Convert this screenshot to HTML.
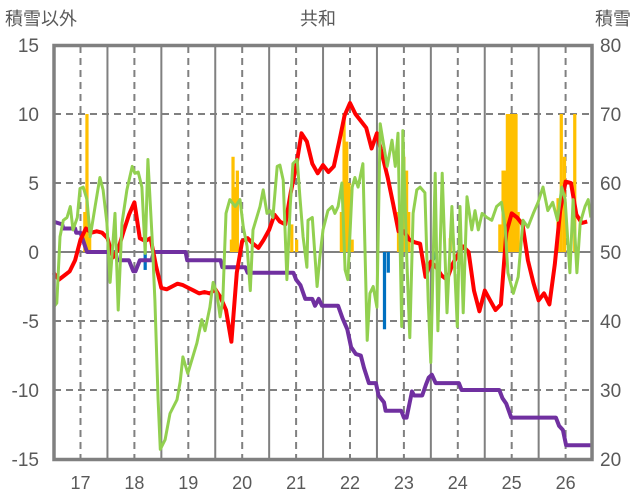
<!DOCTYPE html>
<html><head><meta charset="utf-8">
<style>
html,body{margin:0;padding:0;background:#fff;}
svg{display:block;font-family:"Liberation Sans","Noto Sans CJK JP",sans-serif;}
</style></head>
<body>
<svg id="chart" width="636" height="501" viewBox="0 0 636 501" xmlns="http://www.w3.org/2000/svg">
  <text x="5" y="25" font-size="18" fill="#595959">積雪以外</text>
  <text x="318" y="25" font-size="18" fill="#595959" text-anchor="middle">共和</text>
  <text x="631" y="25" font-size="18" fill="#595959" text-anchor="end">積雪</text>
  <g id="grid"></g>
  <g id="bars"></g>
  <g id="lines"></g>
  <rect x="54" y="45.5" width="538" height="414" fill="none" stroke="#808080" stroke-width="3.5"/>
  <g id="ticks"></g>
</svg>
<script>
const leftTicks = [15, 10, 5, 0, -5, -10, -15];
const rightTicks = [80, 70, 60, 50, 40, 30, 20];
const xTicks = [17, 18, 19, 20, 21, 22, 23, 24, 25, 26];

const redStart = 16.5;
const redStep = 0.1;
const redValues = [-1.5,-2.0,-1.7,-1.4,-0.6,0.9,1.7,1.4,1.5,1.4,1.0,-0.4,0.2,1.5,2.7,3.6,1.0,0.8,1.0,-1.0,-2.6,-2.7,-2.5,-2.3,-2.4,-2.6,-2.8,-3.0,-2.9,-3.0,-2.7,-3.3,-4.2,-6.5,-1.5,0.8,1.0,0.6,0.3,0.9,1.6,2.7,2.2,2.0,4.3,6.2,8.6,8.0,6.4,5.7,6.3,5.8,6.2,8.0,9.9,10.8,10.0,9.5,9.0,7.5,8.6,7.0,5.4,3.5,1.5,1.5,0.9,0.7,0.6,-1.8,-0.7,-1.1,-1.7,-2.0,-0.9,-0.2,0.4,0.0,-2.8,-4.3,-2.8,-3.5,-4.2,-3.8,1.4,2.8,2.5,2.0,-0.6,-2.2,-3.5,-3.0,-3.8,-0.9,3.0,5.1,5.0,2.7,2.1,2.2];

const greenT = [16.5,16.56,16.62,16.68,16.75,16.81,16.86,16.94,16.99,17.05,17.12,17.18,17.27,17.36,17.42,17.49,17.55,17.64,17.70,17.77,17.86,17.96,18.01,18.07,18.14,18.20,18.25,18.33,18.38,18.44,18.48,18.57,18.66,18.79,18.85,18.90,18.99,19.16,19.25,19.31,19.40,19.46,19.53,19.59,19.64,19.70,19.77,19.87,19.96,20.02,20.09,20.15,20.20,20.33,20.39,20.46,20.52,20.57,20.65,20.70,20.76,20.83,20.89,20.94,21.02,21.07,21.13,21.20,21.22,21.30,21.39,21.44,21.50,21.59,21.67,21.72,21.78,21.85,21.91,21.96,22.04,22.09,22.15,22.24,22.32,22.37,22.43,22.50,22.56,22.61,22.69,22.78,22.84,22.89,22.96,22.98,23.06,23.11,23.17,23.24,23.30,23.39,23.45,23.50,23.58,23.63,23.71,23.80,23.89,23.99,24.04,24.10,24.17,24.26,24.32,24.38,24.45,24.54,24.63,24.72,24.81,24.88,24.93,25.03,25.12,25.21,25.30,25.40,25.49,25.58,25.67,25.76,25.85,25.93,25.99,26.08,26.14,26.21,26.27,26.36,26.42,26.47];
const greenValues = [-4.0,-3.7,1.1,2.3,2.5,3.3,1.6,2.5,4.6,4.7,3.8,1.1,3.3,5.4,4.5,2.1,-2.2,2.8,-4.2,2.1,4.5,6.2,5.7,5.8,4.7,-0.1,6.7,0.9,-3.5,-10.7,-14.3,-13.6,-11.7,-10.7,-9.4,-7.6,-8.8,-6.6,-4.9,-5.7,-4.0,-2.2,-3.0,-4.7,-3.5,2.8,3.8,3.3,3.8,1.8,0.4,-2.8,1.6,3.3,4.5,2.8,3.0,2.5,6.2,6.3,5.2,-2.0,3.3,6.4,6.7,4.0,1.1,-1.1,2.3,2.5,-2.5,-0.4,1.6,3.0,3.3,2.8,3.3,5.0,-1.3,-2.0,4.7,5.4,4.7,6.4,-6.4,-3.0,-2.5,-4.0,9.3,8.1,6.2,8.1,6.2,8.6,-5.4,8.8,-1.1,-6.2,2.8,4.5,4.7,4.3,-3.5,-8.0,5.7,-5.7,5.7,-4.4,3.3,-5.4,3.3,-4.4,4.0,1.6,3.0,1.6,2.8,2.5,2.3,3.3,3.6,1.8,-1.5,-3.0,-1.8,2.3,1.8,2.8,3.6,4.7,3.0,3.6,2.3,4.7,3.8,-1.5,3.8,-1.5,2.1,3.3,3.8,2.5];

const snowT = [16.5,16.66,16.68,16.9,16.92,17.0,17.12,17.65,17.68,17.9,17.98,18.02,18.1,18.32,18.36,18.95,18.98,19.6,19.63,20.06,20.1,20.95,21.0,21.08,21.17,21.3,21.35,21.42,21.48,21.78,21.86,21.95,22.02,22.11,22.2,22.26,22.35,22.48,22.53,22.63,22.66,22.95,23.0,23.05,23.15,23.19,23.34,23.41,23.46,23.52,23.59,24.02,24.07,24.77,24.83,24.9,24.99,25.82,25.88,25.95,26.01,26.49];
const snowValues = [54.4,54.0,53.4,53.4,52.8,52.8,50,50,48.8,48.8,47.2,47.2,48.8,48.8,50,50,48.8,48.8,47.8,47.8,47,47,46,45.2,43.2,43.2,42.2,43.2,42.2,42.2,40.4,38.8,36.2,35.2,35,33.2,31,31,29.2,28.2,27,27,26,26,29.8,29.2,29.2,30.8,31.8,32.2,31,31,30,30,28.8,28,26,26,24.8,24.2,22,22];

const orangeT = [17.08,17.12,17.17,19.80,19.83,19.87,19.91,20.92,21.01,21.84,21.89,21.94,21.98,22.04,22.90,23.00,23.05,23.09,23.86,24.78,24.84,24.88,24.92,24.98,25.03,25.08,25.12,25.86,25.92,25.98,26.17];
const orangeValues = [2.9,10,1.1,0.9,6.9,4.7,5.9,2.0,0.9,2.9,10,8.0,5.0,0.9,2.9,6.9,5.9,2.9,1.0,2.0,5.9,5.9,10,10,10,10,2.9,3.9,10,6.9,10];
const blueT = [18.2,22.64,22.71,23.55,23.58];
const blueValues = [-1.3,-5.6,-1.5,-0.6,-0.5];

const NS = "http://www.w3.org/2000/svg";
function xS(t){ return 80.5 + (t - 17) * 53.9; }
function yL(v){ return 252 - v * 13.8; }
function yR(r){ return yL((r - 50) / 2); }
function mk(tag, attrs, parent){
  const e = document.createElementNS(NS, tag);
  for (const k in attrs) e.setAttribute(k, attrs[k]);
  parent.appendChild(e);
  return e;
}
const grid = document.getElementById('grid');
const bars = document.getElementById('bars');
const lines = document.getElementById('lines');
const ticks = document.getElementById('ticks');

// vertical grid: dashed at labels, solid between
xTicks.forEach(t => {
  const l = mk('line', {x1:xS(t), x2:xS(t), y1:46, y2:459, stroke:'#808080', 'stroke-width':2, 'stroke-dasharray':'7,5'}, grid);
  
  
  const s = mk('line', {x1:xS(t+0.5), x2:xS(t+0.5), y1:46, y2:459, stroke:'#808080', 'stroke-width':2}, grid);
  
  
  const lb = mk('text', {x:xS(t), y:489, 'text-anchor':'middle', 'font-size':18, fill:'#595959'}, ticks);
  lb.textContent = t;
  
  
});
leftTicks.forEach(v => {
  if (v !== 15 && v !== -15) {
    const g = mk('line', {x1:54, x2:592, y1:yL(v), y2:yL(v), stroke:'#808080', 'stroke-width':2, 'stroke-dasharray': v === 0 ? 'none' : '7,5'}, grid);
    
    
  }
  const lb = mk('text', {x:39, y:yL(v) + 7, 'text-anchor':'end', 'font-size':19, fill:'#595959'}, ticks);
  lb.textContent = v;
  
  
});
rightTicks.forEach(r => {
  const lb = mk('text', {x:600, y:yR(r) + 7, 'font-size':19, fill:'#595959'}, ticks);
  lb.textContent = r;
  
  
});

const bw = 0.06 * 53.9;
orangeT.forEach((t, i) => {
  const v = orangeValues[i];
  const b = mk('rect', {x:xS(t) - bw/2, y:yL(v), width:bw, height:yL(0) - yL(v), fill:'#FFC000'}, bars);
  
  
});
blueT.forEach((t, i) => {
  const v = blueValues[i];
  const b = mk('rect', {x:xS(t) - bw/2, y:yL(0), width:bw, height:yL(v) - yL(0), fill:'#0070C0'}, bars);
  
  
});

function path(pts, color, w, name){
  const d = pts.map((p, i) => (i ? 'L' : 'M') + p[0].toFixed(1) + ',' + p[1].toFixed(1)).join('');
  const p = mk('path', {d:d, fill:'none', stroke:color, 'stroke-width':w, 'stroke-linejoin':'round'}, lines);
  
  
}
path(snowValues.map((r, i) => [xS(snowT[i]), yR(r)]), '#7030A0', 4, 'snow-depth-line');
path(redValues.map((v, i) => [xS(redStart + i * redStep), yL(v)]), '#FF0000', 4, 'red-series-line');
path(greenValues.map((v, i) => [xS(greenT[i]), yL(v)]), '#92D050', 3, 'green-series-line');
</script>
</body></html>
